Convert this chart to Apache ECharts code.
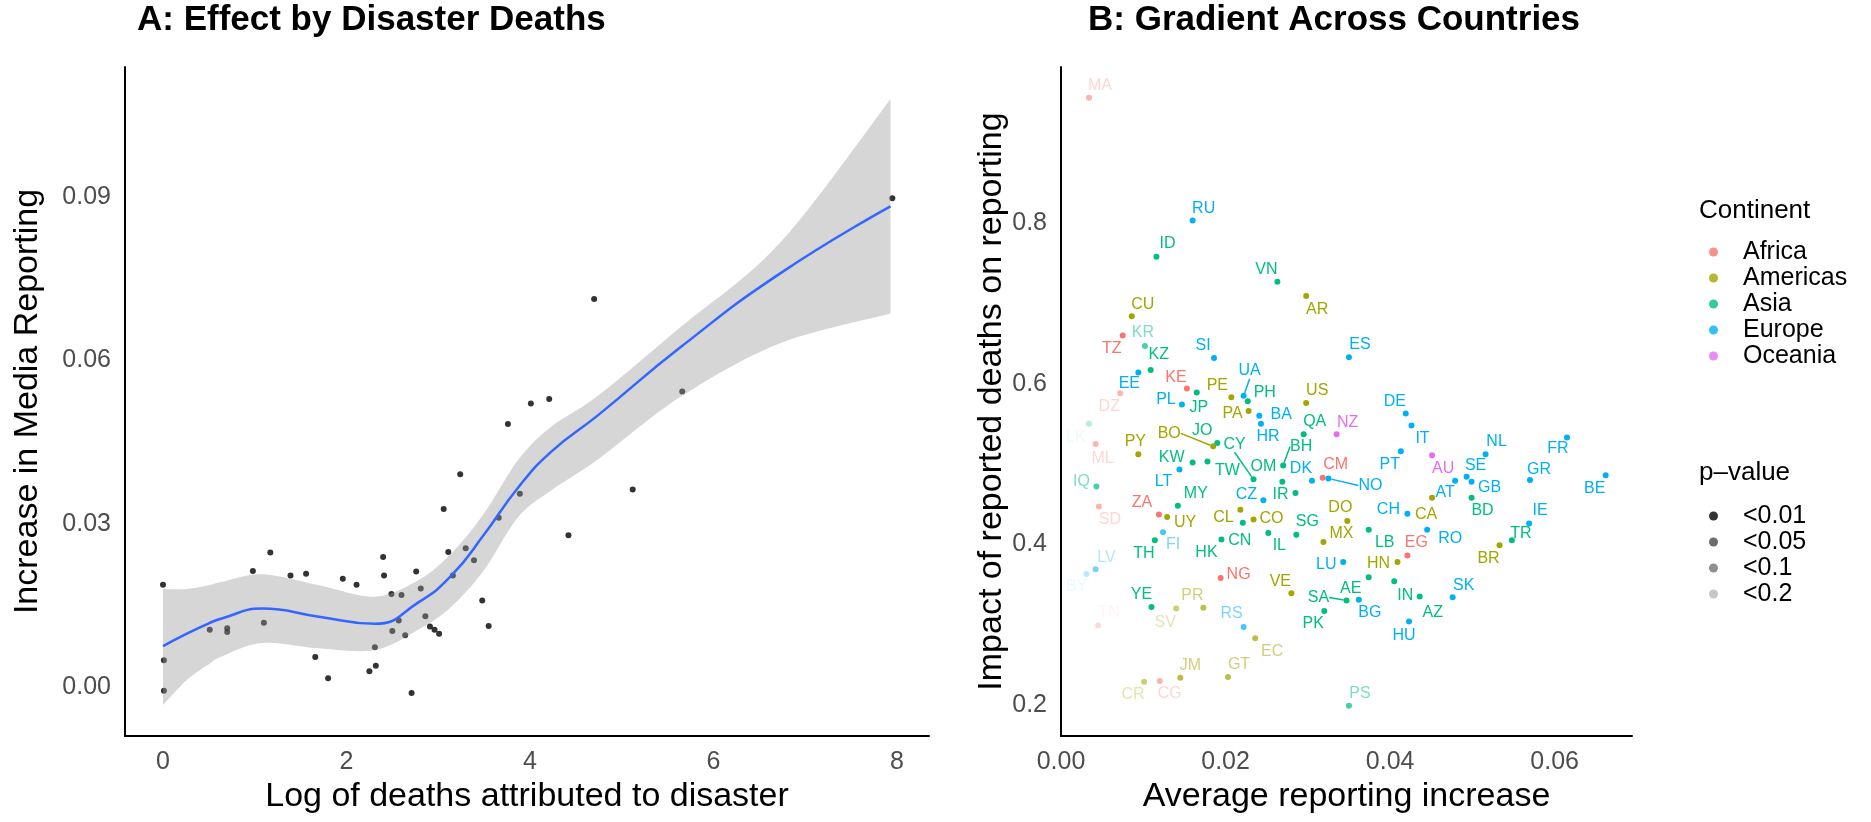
<!DOCTYPE html>
<html>
<head>
<meta charset="utf-8">
<script src="https://cdn.jsdelivr.net/npm/echarts@6/dist/echarts.min.js"></script>
<style>
  html, body { margin: 0; padding: 0; background: #fff; }
  #chart { width: 1871px; height: 822px; }
</style>
</head>
<body>
<div id="chart"></div>
<script>
// ---- panel A: effect by disaster deaths ----
const logDeaths = [0.00, 0.01, 0.01, 0.51, 0.70, 0.70, 0.98, 1.10, 1.17, 1.39,
  1.56, 1.66, 1.80, 1.96, 2.11, 2.25, 2.32, 2.31, 2.40, 2.41,
  2.49, 2.60, 2.50, 2.57, 2.64, 2.71, 2.76, 2.81, 2.86, 2.91,
  2.96, 3.01, 3.06, 3.11, 3.16, 3.24, 3.30, 3.39, 3.48, 3.55,
  3.66, 3.76, 3.89, 4.01, 4.21, 4.42, 4.70, 5.12, 5.66, 7.95]
const mediaIncrease = [0.0188, 0.0049, -0.0007, 0.0105, 0.0108, 0.0101, 0.0213, 0.0118, 0.0247, 0.0205,
  0.0208, 0.0055, 0.0016, 0.0199, 0.0188, 0.0029, 0.0039, 0.0073, 0.0239, 0.0205,
  0.0171, 0.0169, 0.0103, 0.0122, 0.0095, -0.0011, 0.0212, 0.0181, 0.0130, 0.0111,
  0.0105, 0.0098, 0.0327, 0.0248, 0.0205, 0.0391, 0.0255, 0.0233, 0.0159, 0.0112,
  0.0311, 0.0483, 0.0355, 0.0521, 0.0529, 0.0279, 0.0713, 0.0363, 0.0543, 0.0898]
// loess fit and its confidence band
const smoothX = [0, 0.26, 0.5, 0.64, 1.08, 1.7, 2.31, 2.78, 3.14, 3.5, 3.87, 4.23, 4.74, 5.64, 6.72, 7.93]
const smoothFit = [0.0075, 0.0098, 0.0117, 0.0126, 0.0144, 0.0129, 0.0116, 0.0155, 0.0204, 0.0280,
  0.0366, 0.0432, 0.0499, 0.0624, 0.0759, 0.0883]
const smoothLower = [-0.0033, 0.0013, 0.0042, 0.0056, 0.0081, 0.0071, 0.0068, 0.0105, 0.0147, 0.0215,
  0.0312, 0.0361, 0.0418, 0.0533, 0.0631, 0.0686]
const smoothUpper = [0.0180, 0.0180, 0.0187, 0.0193, 0.0207, 0.0187, 0.0166, 0.0196, 0.0245, 0.0319,
  0.0417, 0.0478, 0.0535, 0.0661, 0.0815, 0.1080]
const ticksAX = [0, 2, 4, 6, 8]
const ticksAY = [0, 0.03, 0.06, 0.09]

// ---- panel B: gradient across countries ----
const countryCodes = ['MA', 'RU', 'ID', 'VN', 'AR', 'CU', 'TZ', 'KR', 'SI', 'ES',
  'EE', 'KZ', 'KE', 'DZ', 'JP', 'PE', 'UA', 'PH', 'PL', 'US',
  'PA', 'BA', 'DE', 'HR', 'QA', 'NZ', 'IT', 'LK', 'ML', 'PY',
  'BO', 'JO', 'KW', 'TW', 'CY', 'LT', 'BH', 'OM', 'DK', 'CM',
  'NO', 'IR', 'CZ', 'PT', 'AU', 'IQ', 'MY', 'ZA', 'UY', 'SD',
  'CL', 'CO', 'CN', 'HK', 'IL', 'SG', 'TH', 'FI', 'DO', 'MX',
  'LB', 'CH', 'CA', 'RO', 'EG', 'HN', 'LU', 'NG', 'AE', 'IN',
  'AZ', 'SA', 'PK', 'BG', 'HU', 'VE', 'YE', 'SV', 'PR', 'RS',
  'EC', 'TN', 'LV', 'BY', 'JM', 'GT', 'CR', 'CG', 'PS', 'NL',
  'FR', 'SE', 'GB', 'AT', 'GR', 'BE', 'BD', 'IE', 'TR', 'BR',
  'SK']
const countryContinent = ['Africa', 'Europe', 'Asia', 'Asia', 'Americas', 'Americas', 'Africa', 'Asia', 'Europe', 'Europe',
  'Europe', 'Asia', 'Africa', 'Africa', 'Asia', 'Americas', 'Europe', 'Asia', 'Europe', 'Americas',
  'Americas', 'Europe', 'Europe', 'Europe', 'Asia', 'Oceania', 'Europe', 'Asia', 'Africa', 'Americas',
  'Americas', 'Asia', 'Asia', 'Asia', 'Asia', 'Europe', 'Asia', 'Asia', 'Europe', 'Africa',
  'Europe', 'Asia', 'Europe', 'Europe', 'Oceania', 'Asia', 'Asia', 'Africa', 'Americas', 'Africa',
  'Americas', 'Americas', 'Asia', 'Asia', 'Asia', 'Asia', 'Asia', 'Europe', 'Americas', 'Americas',
  'Asia', 'Europe', 'Americas', 'Europe', 'Africa', 'Americas', 'Europe', 'Africa', 'Asia', 'Asia',
  'Asia', 'Asia', 'Asia', 'Europe', 'Europe', 'Americas', 'Asia', 'Americas', 'Americas', 'Europe',
  'Americas', 'Africa', 'Europe', 'Europe', 'Americas', 'Americas', 'Americas', 'Africa', 'Asia', 'Europe',
  'Europe', 'Europe', 'Europe', 'Europe', 'Europe', 'Europe', 'Asia', 'Europe', 'Asia', 'Americas',
  'Europe']
const avgReportingIncrease = [0.0034, 0.0160, 0.0116, 0.0263, 0.0298, 0.0086, 0.0075, 0.0102, 0.0186, 0.0350,
  0.0094, 0.0109, 0.0153, 0.0072, 0.0165, 0.0207, 0.0222, 0.0227, 0.0147, 0.0298,
  0.0228, 0.0241, 0.0419, 0.0243, 0.0295, 0.0335, 0.0426, 0.0034, 0.0042, 0.0094,
  0.0185, 0.0190, 0.0160, 0.0178, 0.0234, 0.0144, 0.0270, 0.0269, 0.0305, 0.0318,
  0.0325, 0.0285, 0.0246, 0.0413, 0.0451, 0.0043, 0.0142, 0.0119, 0.0129, 0.0046,
  0.0218, 0.0234, 0.0221, 0.0195, 0.0252, 0.0286, 0.0114, 0.0124, 0.0348, 0.0319,
  0.0374, 0.0421, 0.0451, 0.0445, 0.0421, 0.0409, 0.0343, 0.0194, 0.0374, 0.0405,
  0.0436, 0.0347, 0.0320, 0.0362, 0.0423, 0.0280, 0.0110, 0.0140, 0.0173, 0.0222,
  0.0236, 0.0045, 0.0042, 0.0031, 0.0145, 0.0203, 0.0101, 0.0120, 0.0350, 0.0516,
  0.0615, 0.0493, 0.0499, 0.0479, 0.0570, 0.0662, 0.0499, 0.0569, 0.0548, 0.0533,
  0.0476]
const deathsImpact = [0.956, 0.803, 0.758, 0.727, 0.709, 0.684, 0.660, 0.647, 0.632, 0.633,
  0.614, 0.617, 0.594, 0.588, 0.589, 0.583, 0.585, 0.578, 0.574, 0.576,
  0.566, 0.560, 0.563, 0.550, 0.537, 0.537, 0.548, 0.550, 0.525, 0.512,
  0.522, 0.526, 0.502, 0.503, 0.481, 0.493, 0.498, 0.478, 0.479, 0.483,
  0.482, 0.464, 0.455, 0.516, 0.511, 0.472, 0.448, 0.437, 0.434, 0.447,
  0.443, 0.431, 0.427, 0.406, 0.414, 0.412, 0.405, 0.415, 0.429, 0.403,
  0.418, 0.438, 0.458, 0.418, 0.386, 0.378, 0.378, 0.358, 0.359, 0.354,
  0.335, 0.330, 0.317, 0.331, 0.304, 0.339, 0.322, 0.320, 0.321, 0.297,
  0.283, 0.299, 0.369, 0.363, 0.234, 0.235, 0.229, 0.230, 0.199, 0.512,
  0.533, 0.484, 0.478, 0.479, 0.480, 0.486, 0.458, 0.426, 0.405, 0.399,
  0.334]
// 0: <0.01, 1: <0.05, 2: <0.1, 3: <0.2
const pValueClass = [2, 0, 0, 0, 0, 0, 0, 1, 0, 0,
  0, 0, 0, 2, 0, 0, 0, 0, 0, 0,
  0, 0, 0, 0, 0, 0, 0, 3, 2, 0,
  0, 0, 0, 0, 0, 0, 0, 0, 0, 0,
  0, 0, 0, 0, 0, 1, 0, 0, 0, 2,
  0, 0, 0, 0, 0, 0, 0, 1, 0, 0,
  0, 0, 0, 0, 0, 0, 0, 0, 0, 0,
  0, 0, 0, 0, 0, 0, 0, 2, 1, 1,
  1, 3, 2, 3, 1, 1, 2, 2, 1, 0,
  0, 0, 0, 0, 0, 0, 0, 0, 0, 0,
  0]
const continents = ['Africa', 'Americas', 'Asia', 'Europe', 'Oceania']
const pValueLabels = ['<0.01', '<0.05', '<0.1', '<0.2']
const ticksBX = [0, 0.02, 0.04, 0.06]
const ticksBY = [0.2, 0.4, 0.6, 0.8]

// styling
const FONT = '"Liberation Sans", Arial, Helvetica, sans-serif'
const continentColors = ['#F8766D', '#A3A500', '#00BF7D', '#00B0F6', '#E76BF3']
const pAlpha = [1, 0.72, 0.55, 0.28]
// where ggrepel put each label, relative to its point (px)
const labelShift = {
  MA: [11, -12], RU: [11, -12], ID: [11, -13], VN: [-11, -12], AR: [11, 13], CU: [11, -12],
  TZ: [-11, 13], KR: [-2, -13], SI: [-11, -12], ES: [11, -13], EE: [-9, 11], KZ: [8, -15],
  KE: [-11, -11], DZ: [-11, 13], JP: [2, 15], PE: [-14, -12], UA: [6, -25], PH: [17, -9],
  PL: [-16, -5], US: [11, -12], PA: [-16, 3], BA: [22, -1], DE: [-11, -12], HR: [7, 13],
  QA: [11, -13], NZ: [11, -12], IT: [11, 13], LK: [-13, 14], ML: [7, 15], PY: [-3, -13],
  BO: [-44, -13], JO: [-15, -13], KW: [-21, -5], TW: [20, 9], CY: [-19, -35], LT: [-16, 12],
  BH: [18, -19], OM: [-19, -15], DK: [-11, -12], CM: [13, -13], NO: [42, 7], IR: [-15, 2],
  CZ: [-17, -6], PT: [-11, 13], AU: [11, 13], IQ: [-15, -5], MY: [18, -12], ZA: [-17, -12],
  UY: [18, 6], SD: [11, 13], CL: [-17, 8], CO: [18, -1], CN: [-3, 18], HK: [-15, 13],
  IL: [11, 13], SG: [11, -13], TH: [-11, 13], FI: [10, 12], DO: [-7, -13], MX: [18, -8],
  LB: [16, 13], CH: [-19, -4], CA: [-6, 17], RO: [23, 9], EG: [9, -13], HN: [-19, 2],
  LU: [-17, 3], NG: [18, -3], AE: [-18, 11], IN: [11, 14], AZ: [13, 16], SA: [-28, -3],
  PK: [-11, 13], BG: [11, 13], HU: [-5, 14], VE: [-11, -12], YE: [-10, -12], SV: [-11, 14],
  PR: [-11, -12], RS: [-12, -13], EC: [17, 13], TN: [11, -13], LV: [11, -12], BY: [-10, 13],
  JM: [10, -12], GT: [11, -12], CR: [-11, 13], CG: [10, 13], PS: [11, -12], NL: [11, -13],
  FR: [-9, 11], SE: [9, -11], GB: [18, 6], AT: [-10, 12], GR: [9, -10], BE: [-11, 13],
  BD: [11, 13], IE: [11, -13], TR: [9, -7], BR: [-11, 13], SK: [11, -12]
}
const withConnector = ['UA', 'BO', 'CY', 'BH', 'NO', 'SA']

function rgba(hex, a) {
  const n = parseInt(hex.slice(1), 16)
  return 'rgba(' + (n >> 16) + ',' + ((n >> 8) & 255) + ',' + (n & 255) + ',' + a + ')'
}
function tickFormatter(ticks, digits) {
  return function (v) {
    return ticks.some(t => Math.abs(t - v) < 1e-9) ? v.toFixed(digits) : ''
  }
}
// smooth outline through pixel points (catmull-rom, sampled for a polygon)
function splineOutline(pts) {
  const out = []
  for (let i = 0; i < pts.length - 1; i++) {
    const p0 = pts[i - 1] || pts[i], p1 = pts[i], p2 = pts[i + 1], p3 = pts[i + 2] || pts[i + 1]
    const c1 = [p1[0] + (p2[0] - p0[0]) / 6, p1[1] + (p2[1] - p0[1]) / 6]
    const c2 = [p2[0] - (p3[0] - p1[0]) / 6, p2[1] - (p3[1] - p1[1]) / 6]
    for (let k = 0; k < 12; k++) {
      const t = k / 12, u = 1 - t
      out.push([
        u * u * u * p1[0] + 3 * u * u * t * c1[0] + 3 * u * t * t * c2[0] + t * t * t * p2[0],
        u * u * u * p1[1] + 3 * u * u * t * c1[1] + 3 * u * t * t * c2[1] + t * t * t * p2[1],
      ])
    }
  }
  out.push(pts[pts.length - 1])
  return out
}

const chart = echarts.init(document.getElementById('chart'))

const axisLine = { show: true, onZero: false, lineStyle: { color: '#000', width: 2 } }
const axisLabel = { color: '#4d4d4d', fontSize: 25, fontFamily: FONT, margin: 14 }
const axisName = { color: '#000', fontSize: 34, fontFamily: FONT }

const series = [
  {
    type: 'scatter',
    xAxisIndex: 0,
    yAxisIndex: 0,
    data: logDeaths.map((x, i) => [x, mediaIncrease[i]]),
    symbolSize: 6,
    itemStyle: { color: '#000' },
    z: 2,
    silent: true,
  },
  {
    // confidence ribbon, drawn over the points like geom_smooth
    type: 'custom',
    xAxisIndex: 0,
    yAxisIndex: 0,
    data: [0],
    z: 3,
    silent: true,
    renderItem: function (params, api) {
      const up = smoothX.map((x, i) => api.coord([x, smoothUpper[i]]))
      const lo = smoothX.map((x, i) => api.coord([x, smoothLower[i]])).reverse()
      return {
        type: 'polygon',
        shape: { points: splineOutline(up).concat(splineOutline(lo)) },
        style: { fill: 'rgba(153,153,153,0.4)' },
      }
    },
  },
  {
    type: 'line',
    xAxisIndex: 0,
    yAxisIndex: 0,
    data: smoothX.map((x, i) => [x, smoothFit[i]]),
    smooth: true,
    symbol: 'none',
    lineStyle: { color: '#3366FF', width: 2.5 },
    z: 4,
    silent: true,
  },
]

// one series per continent so the legend gets its colours
const codesBySeries = {}
continents.forEach((cont, ci) => {
  const color = continentColors[ci]
  const codes = []
  const data = []
  countryCodes.forEach((code, i) => {
    if (countryContinent[i] !== cont) return
    const a = pAlpha[pValueClass[i]]
    codes.push(code)
    data.push({
      name: code,
      value: [avgReportingIncrease[i], deathsImpact[i]],
      itemStyle: { opacity: a },
      label: { color: rgba(color, a) },
      labelLine: {
        show: withConnector.indexOf(code) >= 0,
        lineStyle: { color: rgba(color, a), width: 1.5 },
      },
    })
  })
  codesBySeries[series.length] = codes
  series.push({
    name: cont,
    type: 'scatter',
    xAxisIndex: 1,
    yAxisIndex: 1,
    data: data,
    symbolSize: 6,
    itemStyle: { color: color },
    label: {
      show: true,
      position: 'inside',
      formatter: '{b}',
      fontSize: 16,
      fontFamily: FONT,
    },
    labelLayout: function (p) {
      const s = labelShift[codesBySeries[p.seriesIndex][p.dataIndex]] || [0, -12]
      return { dx: s[0], dy: s[1] }
    },
    z: 5,
  })
})
// p-value legend entries
pValueLabels.forEach((lab, k) => {
  series.push({
    name: lab,
    type: 'scatter',
    xAxisIndex: 1,
    yAxisIndex: 1,
    data: [],
    itemStyle: { color: 'rgba(0,0,0,' + pAlpha[k] + ')' },
  })
})

const legendBase = {
  orient: 'vertical',
  left: 1704,
  icon: 'circle',
  itemWidth: 9,
  itemHeight: 9,
  itemGap: 0,
  selectedMode: false,
  textStyle: { color: '#000', fontSize: 25, lineHeight: 26, fontFamily: FONT, padding: [0, 0, 0, 20] },
}

const titleStyle = { fontSize: 35, fontWeight: 'bold', color: '#000', fontFamily: FONT }

const option = {
  backgroundColor: '#fff',
  animation: false,
  title: [
    { text: 'A: Effect by Disaster Deaths', left: 137, top: 3, padding: 0, textStyle: titleStyle },
    { text: 'B: Gradient Across Countries', left: 1088, top: 3, padding: 0, textStyle: titleStyle },
  ],
  grid: [
    { left: 125, top: 67, width: 804, height: 669 },
    { left: 1061, top: 67, width: 571, height: 669 },
  ],
  xAxis: [
    {
      gridIndex: 0, type: 'value', min: -0.414, max: 8.35, splitNumber: 5,
      axisLine, axisTick: { show: false }, splitLine: { show: false },
      axisLabel: Object.assign({}, axisLabel, { formatter: tickFormatter(ticksAX, 0) }),
      name: 'Log of deaths attributed to disaster', nameLocation: 'middle', nameGap: 40,
      nameTextStyle: axisName,
    },
    {
      gridIndex: 1, type: 'value', min: 0, max: 0.0694, splitNumber: 4,
      axisLine, axisTick: { show: false }, splitLine: { show: false },
      axisLabel: Object.assign({}, axisLabel, { formatter: tickFormatter(ticksBX, 2) }),
      name: 'Average reporting increase', nameLocation: 'middle', nameGap: 40,
      nameTextStyle: axisName,
    },
  ],
  yAxis: [
    {
      gridIndex: 0, type: 'value', min: -0.009, max: 0.1139, splitNumber: 4,
      axisLine, axisTick: { show: false }, splitLine: { show: false },
      axisLabel: Object.assign({}, axisLabel, { formatter: tickFormatter(ticksAY, 2) }),
      name: 'Increase in Media Reporting', nameLocation: 'middle', nameGap: 80,
      nameTextStyle: axisName,
    },
    {
      gridIndex: 1, type: 'value', min: 0.1614, max: 0.9942, splitNumber: 5,
      axisLine, axisTick: { show: false }, splitLine: { show: false },
      axisLabel: Object.assign({}, axisLabel, { formatter: tickFormatter(ticksBY, 1) }),
      name: 'Impact of reported deaths on reporting', nameLocation: 'middle', nameGap: 51,
      nameTextStyle: axisName,
    },
  ],
  legend: [
    Object.assign({}, legendBase, { top: 234, data: continents }),
    Object.assign({}, legendBase, { top: 498, data: pValueLabels }),
  ],
  graphic: [
    { type: 'text', left: 1699, top: 198,
      style: { text: 'Continent', fill: '#000', font: '26px ' + FONT } },
    { type: 'text', left: 1699, top: 460,
      style: { text: 'p\u2013value', fill: '#000', font: '26px ' + FONT } },
  ],
  series: series,
}

chart.setOption(option)
</script>
</body>
</html>
